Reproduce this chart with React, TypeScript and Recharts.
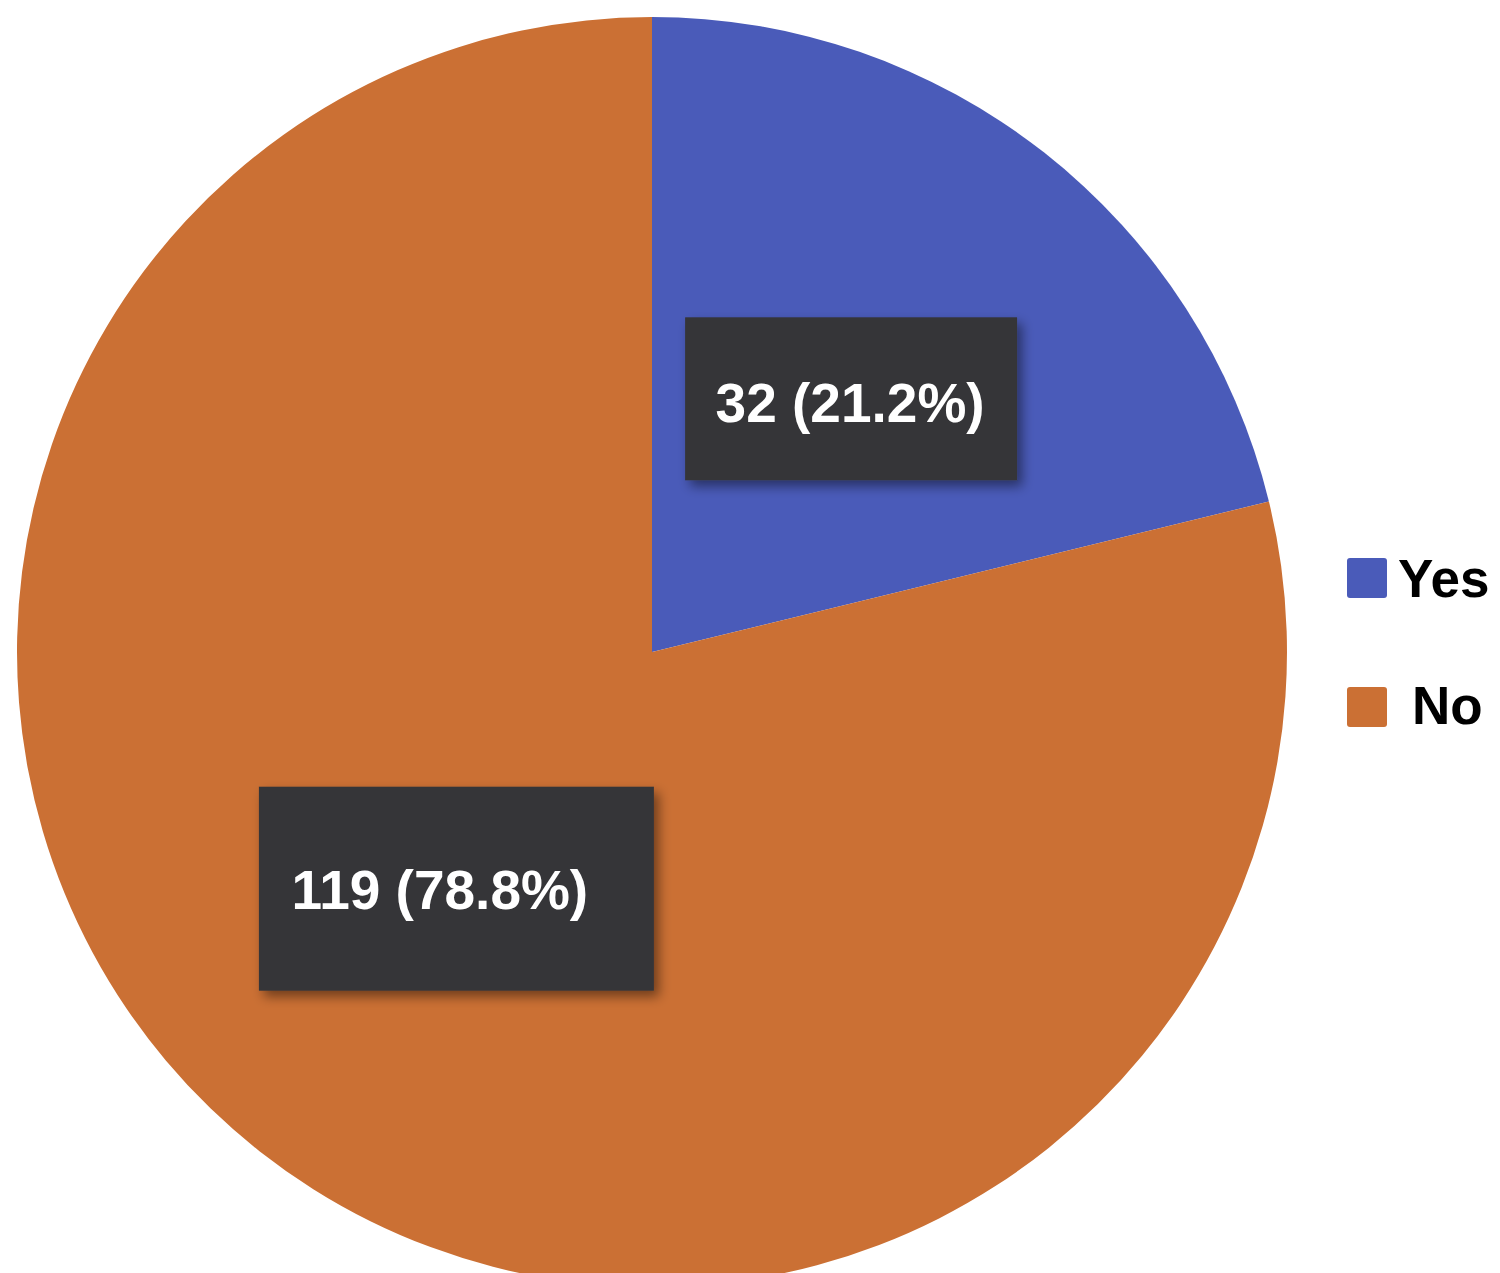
import { PieChart, Pie, Cell, Legend } from "recharts";

// Answers and counts
const categories = ["Yes", "No"];
const counts = [32, 119];

const COLORS = ["#4a5bb9", "#cb7034"];
const RADIAN = Math.PI / 180;
const FONT = "'Liberation Sans', Arial, Helvetica, sans-serif";

const data = categories.map((name, i) => ({ name, value: counts[i] }));
const total = counts.reduce((a, b) => a + b, 0);

// Per-slice tweaks for the dark label boxes (offsets from the slice's mid-radius point)
const boxStyles = [
  { tx: 2, ty: 20, bx: -163, by: -85, bw: 332, bh: 163 },
  { tx: -16, ty: 7, bx: -197, by: -115, bw: 395, bh: 204 },
];

function renderLabel(props: any) {
  const { cx, cy, midAngle, outerRadius, index, value } = props;
  const r = outerRadius * 0.5;
  const x = cx + r * Math.cos(-midAngle * RADIAN);
  const y = cy + r * Math.sin(-midAngle * RADIAN);
  const s = boxStyles[index];
  const pct = ((value / total) * 100).toFixed(1);
  const id = `shadow-${index}`;
  return (
    <g>
      <defs>
        <filter id={id} x="-20%" y="-20%" width="140%" height="140%">
          <feDropShadow dx="5" dy="6" stdDeviation="6" floodColor="#000" floodOpacity="0.45" />
        </filter>
      </defs>
      <rect x={x + s.bx} y={y + s.by} width={s.bw} height={s.bh} fill="#363639" filter={`url(#${id})`} />
      <text
        x={x + s.tx}
        y={y + s.ty}
        textAnchor="middle"
        fill="#ffffff"
        fontFamily={FONT}
        fontWeight="bold"
        fontSize={55}
      >
        {`${value} (${pct}%)`}
      </text>
    </g>
  );
}

function LegendContent() {
  return (
    <svg width={153} height={180} style={{ overflow: "visible" }}>
      {categories.map((name, i) => (
        <g key={name}>
          <rect x={0} y={3 + i * 129} width={40} height={40} rx={3} fill={COLORS[i]} />
          <text
            x={i === 0 ? 51 : 65}
            y={42 + i * 127}
            fontFamily={FONT}
            fontWeight="bold"
            fontSize={53}
            fill="#000"
          >
            {name}
          </text>
        </g>
      ))}
    </svg>
  );
}

export default function App() {
  return (
    <div style={{ position: "absolute", left: 0, top: 0, width: 1500, height: 1273, background: "#fff" }}>
      <PieChart width={1500} height={1273} margin={{ top: 0, right: 0, bottom: 0, left: 0 }}>
        <Pie
          data={data}
          dataKey="value"
          nameKey="name"
          cx={652}
          cy={652}
          outerRadius={635}
          startAngle={90}
          endAngle={-270}
          stroke="none"
          labelLine={false}
          label={renderLabel}
          isAnimationActive={false}
        >
          {data.map((d, i) => (
            <Cell key={d.name} fill={COLORS[i]} />
          ))}
        </Pie>
        <Legend
          content={<LegendContent />}
          wrapperStyle={{ position: "absolute", left: 1347, top: 555, width: 153 }}
        />
      </PieChart>
    </div>
  );
}
